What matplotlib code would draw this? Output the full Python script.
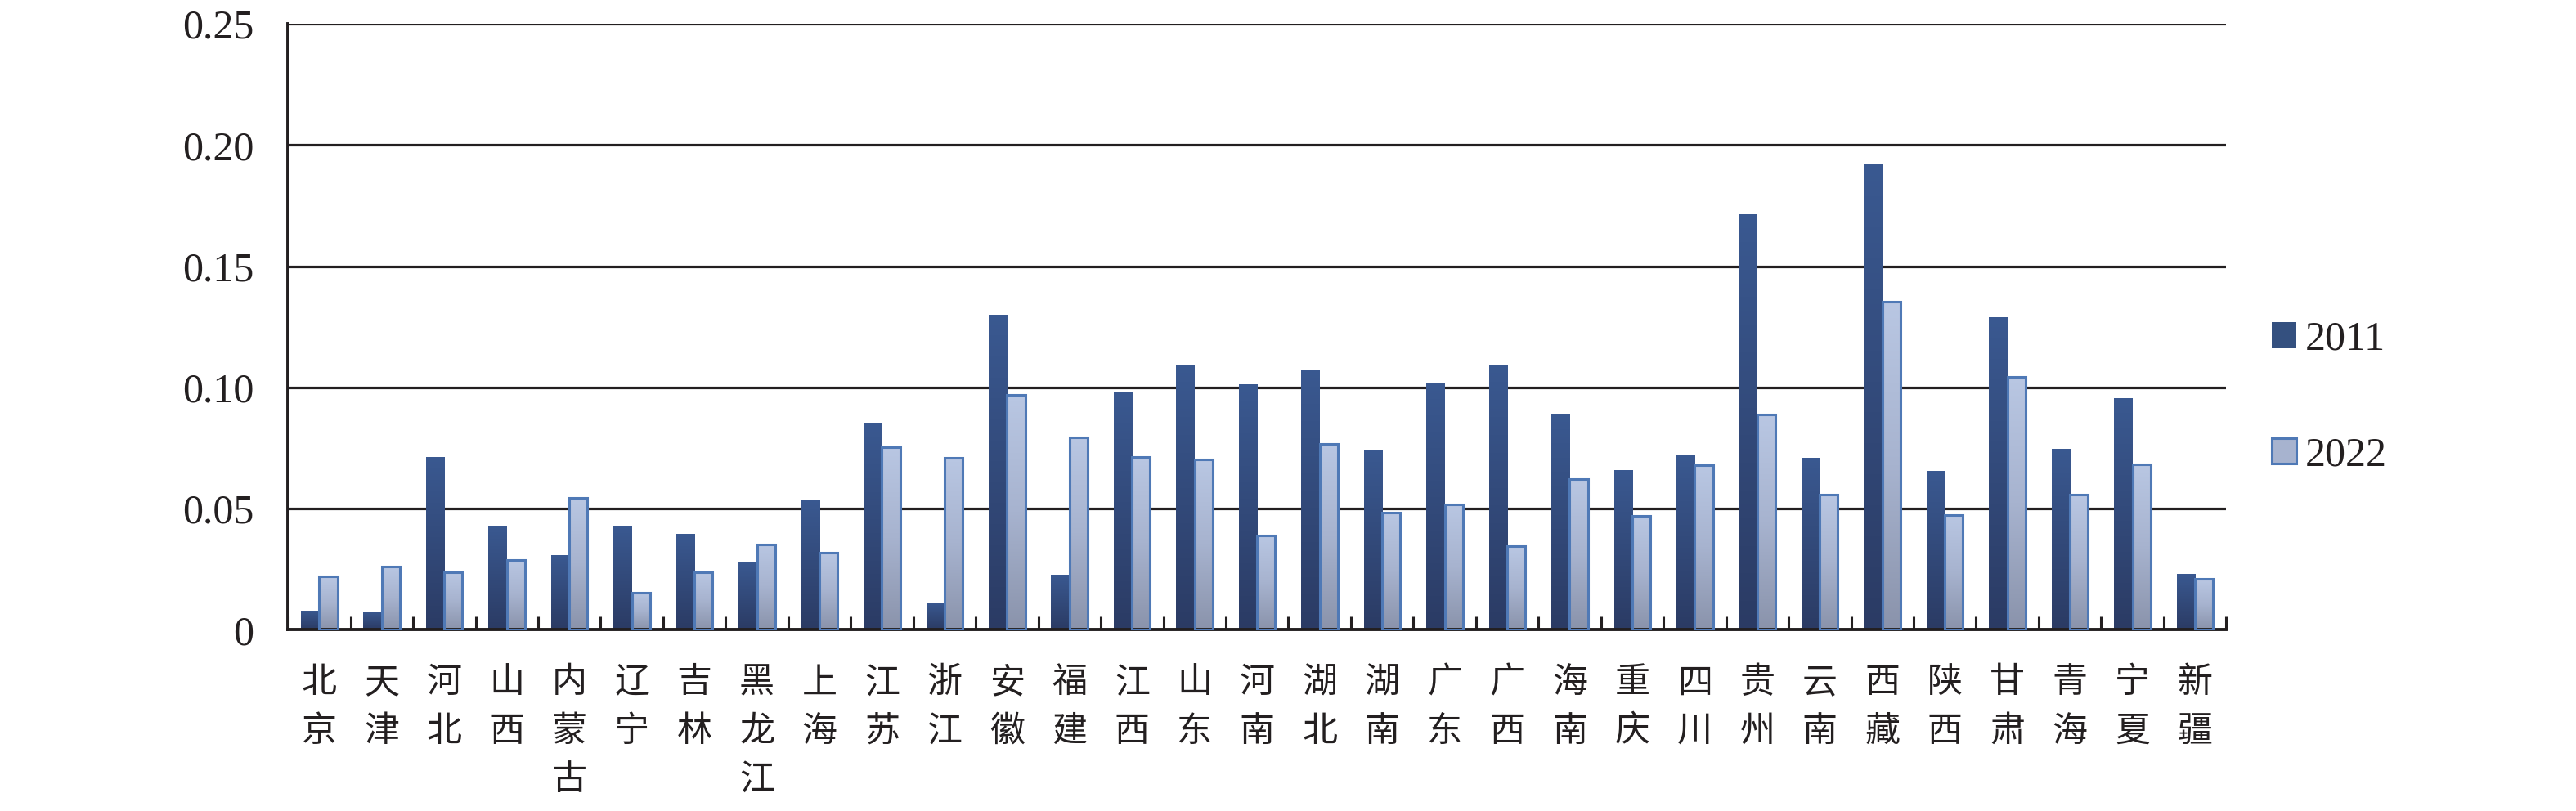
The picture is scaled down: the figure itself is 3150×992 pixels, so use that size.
import numpy as np
import matplotlib
matplotlib.use('Agg')
from matplotlib import pyplot as plt
from matplotlib.colors import LinearSegmentedColormap
from matplotlib.patches import Patch

plt.rcParams['font.family'] = ['Liberation Serif', 'Noto Sans CJK SC']

provinces = ['北京', '天津', '河北', '山西', '内蒙古', '辽宁', '吉林', '黑龙江',
             '上海', '江苏', '浙江', '安徽', '福建', '江西', '山东', '河南',
             '湖北', '湖南', '广东', '广西', '海南', '重庆', '四川', '贵州',
             '云南', '西藏', '陕西', '甘肃', '青海', '宁夏', '新疆']
v2011 = [0.0078, 0.0075, 0.0712, 0.0429, 0.0308, 0.0425, 0.0396, 0.0278,
         0.0536, 0.0851, 0.0109, 0.1300, 0.0227, 0.0982, 0.1093, 0.1013,
         0.1073, 0.0740, 0.1020, 0.1093, 0.0887, 0.0659, 0.0719, 0.1714,
         0.0709, 0.1919, 0.0656, 0.1290, 0.0747, 0.0955, 0.0230]
v2022 = [0.0219, 0.0260, 0.0237, 0.0288, 0.0545, 0.0152, 0.0237, 0.0351,
         0.0318, 0.0753, 0.0709, 0.0969, 0.0793, 0.0712, 0.0702, 0.0389,
         0.0767, 0.0483, 0.0517, 0.0344, 0.0621, 0.0469, 0.0679, 0.0887,
         0.0558, 0.1353, 0.0474, 0.1043, 0.0558, 0.0682, 0.0209]
series_labels = ['2011', '2022']
y_ticks = [0, 0.05, 0.10, 0.15, 0.20, 0.25]
y_ticklabels = ['0', '0.05', '0.10', '0.15', '0.20', '0.25']

ink = '#231F20'
dark_cmap = LinearSegmentedColormap.from_list('dark', ['#2B3B64', '#3A5991'])
light_cmap = LinearSegmentedColormap.from_list('light', ['#8A93AB', '#A7B3CF', '#B9C7E3'])
light_edge = '#4F79B6'

fig = plt.figure(figsize=(31.5, 9.92), dpi=100)
ax = fig.add_axes([0.1118, 0.2235, 0.7524, 0.7472])

x = np.arange(len(provinces))
w = 0.29
bars_a = ax.bar(x - 0.148, v2011, w, facecolor='none', edgecolor='none', zorder=3)
bars_b = ax.bar(x + 0.145, v2022, w, facecolor='none', edgecolor=light_edge,
                linewidth=2.2, zorder=3)

# gradient fill, clipped to each bar
grad = np.linspace(0, 1, 256).reshape(-1, 1)
for bars, cmap in [(bars_a, dark_cmap), (bars_b, light_cmap)]:
    for b in bars:
        x0, y0 = b.get_x(), b.get_y()
        im = ax.imshow(grad, extent=(x0, x0 + b.get_width(), y0, y0 + b.get_height()),
                       origin='lower', aspect='auto', cmap=cmap, zorder=2.5,
                       interpolation='bilinear')
        im.set_clip_path(b)

ax.set_xlim(-0.5, len(provinces) - 0.5)
ax.set_ylim(0, 0.25)
ax.set_aspect('auto')

ax.set_yticks(y_ticks)
ax.set_yticklabels(y_ticklabels)
ax.yaxis.grid(True, color=ink, linewidth=2.3, zorder=1)
ax.set_axisbelow(True)
ax.tick_params(axis='y', length=0, pad=30, labelsize=36, labelcolor=ink)

# ticks between categories, labels at centres
ax.set_xticks(np.arange(-0.5, len(provinces)))
ax.set_xticklabels([])
ax.set_xticks(x, minor=True)
ax.set_xticklabels(['\n'.join(p) for p in provinces], minor=True,
                   family=['Noto Sans CJK SC'], fontsize=31, linespacing=1.45,
                   weight='light', color=ink, va='top')
ax.tick_params(axis='x', which='major', direction='in', length=11.5, width=2.2, color=ink)
ax.tick_params(axis='x', which='minor', length=0, pad=31)

for side in ['top', 'right']:
    ax.spines[side].set_visible(False)
for side in ['left', 'bottom']:
    ax.spines[side].set_linewidth(2.8)
    ax.spines[side].set_color(ink)

handles = [Patch(facecolor='#34507F', edgecolor='none'),
           Patch(facecolor='#A7B3CF', edgecolor=light_edge, linewidth=2.2)]
fig.legend(handles, series_labels, loc='center left', bbox_to_anchor=(0.882, 0.51),
           frameon=False, fontsize=36, handlelength=0.6, handleheight=0.6,
           handletextpad=0.2, labelspacing=1.9, borderpad=0, borderaxespad=0,
           labelcolor=ink)

fig.savefig('out.png', dpi=100)
